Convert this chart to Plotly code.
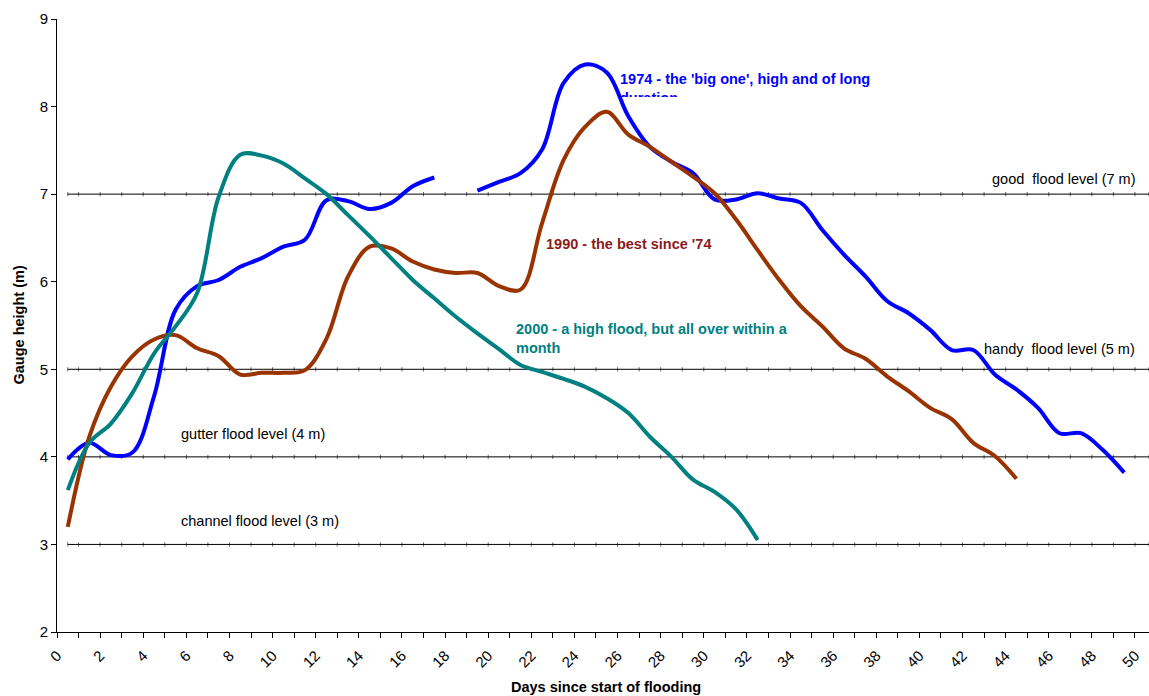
import plotly.graph_objects as go

# Days (category centres)
days = [0.5 + i for i in range(50)]

flood_1974 = [3.97, 4.16, 4.02, 4.05, 4.69, 5.68, 5.95, 6.02, 6.17, 6.27,
              6.40, 6.48, 6.93, 6.92, 6.83, 6.90, 7.09, 7.19, None, 7.04,
              7.14, 7.24, 7.51, 8.27, 8.48, 8.39, 7.89, 7.54, 7.37, 7.24,
              6.94, 6.94, 7.01, 6.95, 6.90, 6.59, 6.31, 6.06, 5.78, 5.64,
              5.45, 5.22, 5.22, 4.94, 4.77, 4.56, 4.27, 4.27, 4.08, 3.82]

flood_1990 = [3.20, 4.23, 4.80, 5.15, 5.34, 5.39, 5.24, 5.15, 4.94, 4.96,
              4.96, 4.99, 5.35, 6.06, 6.40, 6.38, 6.23, 6.14, 6.10, 6.10,
              5.95, 5.91, 6.67, 7.39, 7.77, 7.94, 7.68, 7.54, 7.37, 7.20,
              7.01, 6.71, 6.36, 6.02, 5.72, 5.49, 5.24, 5.12, 4.92, 4.75,
              4.56, 4.43, 4.16, 4.01, 3.75]

flood_2000 = [3.62, 4.16, 4.38, 4.73, 5.18, 5.49, 5.87, 6.97, 7.45, 7.44,
              7.35, 7.18, 7.00, 6.76, 6.52, 6.27, 6.02, 5.81, 5.60, 5.41,
              5.23, 5.05, 4.97, 4.89, 4.80, 4.67, 4.50, 4.23, 4.00, 3.74,
              3.60, 3.40, 3.05]

level_names = ["channel flood level (3 m)", "gutter flood level (4 m)",
               "handy  flood level (5 m)", "good  flood level (7 m)"]
level_values = [3, 4, 5, 7]
level_x = [0.5] + list(range(1, 51)) + [50.65]

x_ticks = list(range(0, 51, 2))
y_ticks = list(range(2, 10))

fig = go.Figure()

for name, val in zip(level_names, level_values):
    fig.add_trace(go.Scatter(
        x=level_x, y=[val] * len(level_x), mode="lines+markers",
        line=dict(color="black", width=1),
        marker=dict(symbol="line-ns", size=3,
                    line=dict(color="rgba(0,0,0,0.6)", width=1)),
        name=name, showlegend=False, hoverinfo="skip"))

series = [
    ("1974", flood_1974, "#0000FF"),
    ("1990", flood_1990, "#993300"),
    ("2000", flood_2000, "#008080"),
]
for name, vals, col in series:
    fig.add_trace(go.Scatter(
        x=days[:len(vals)], y=vals, mode="lines", name=name,
        line=dict(color=col, width=4, shape="spline", smoothing=1),
        connectgaps=False, showlegend=False))

ann_font = "Liberation Sans, Arial, sans-serif"
fs = 14.5
annotations = [
    dict(x=26.0, y=8.43, xanchor="left", yanchor="top", align="left",
         text="<b>1974 - the 'big one', high and of long<br>duration</b>",
         font=dict(color="#0000FF", size=fs, family=ann_font),
         height=26, valign="top", showarrow=False),
    dict(x=22.6, y=6.43, xanchor="left", yanchor="middle", align="left",
         text="<b>1990 - the best since '74</b>",
         font=dict(color="#8b1a1a", size=fs, family=ann_font), showarrow=False),
    dict(x=21.2, y=5.35, xanchor="left", yanchor="middle", align="left",
         text="<b>2000 - a high flood, but all over within a<br>month</b>",
         font=dict(color="#008080", size=fs, family=ann_font), showarrow=False),
    dict(x=50.1, y=7.17, xanchor="right", yanchor="middle",
         text=level_names[3], font=dict(color="black", size=fs, family=ann_font),
         showarrow=False),
    dict(x=50.1, y=5.23, xanchor="right", yanchor="middle",
         text=level_names[2], font=dict(color="black", size=fs, family=ann_font),
         showarrow=False),
    dict(x=5.66, y=4.26, xanchor="left", yanchor="middle",
         text=level_names[1], font=dict(color="black", size=fs, family=ann_font),
         showarrow=False),
    dict(x=5.66, y=3.27, xanchor="left", yanchor="middle",
         text=level_names[0], font=dict(color="black", size=fs, family=ann_font),
         showarrow=False),
    dict(xref="paper", yref="paper", x=0.503, y=0, yshift=-55,
         xanchor="center", yanchor="middle",
         text="<b>Days since start of flooding</b>",
         font=dict(color="black", size=fs, family=ann_font), showarrow=False),
    dict(xref="paper", yref="paper", x=0, y=0.5, xshift=-39,
         xanchor="center", yanchor="middle", textangle=-90,
         text="<b>Gauge height (m)</b>",
         font=dict(color="black", size=fs, family=ann_font), showarrow=False),
]

fig.update_layout(
    width=1149, height=696,
    margin=dict(l=57, r=0, t=19, b=64),
    paper_bgcolor="white", plot_bgcolor="white",
    font=dict(family=ann_font, color="black"),
    annotations=annotations,
    xaxis=dict(range=[0, 50.65], tickvals=x_ticks, tickangle=-45,
               automargin=False, ticklabelstandoff=3,
               showgrid=False, zeroline=False, showline=True,
               linecolor="black", linewidth=1, ticks="outside", ticklen=5,
               tickcolor="black", tickfont=dict(size=15),
               minor=dict(dtick=1, tick0=0, ticks="outside", ticklen=5,
                          tickcolor="black", showgrid=False)),
    yaxis=dict(range=[2, 9], tickvals=y_ticks, showgrid=False, zeroline=False,
               automargin=False,
               showline=True, linecolor="black", linewidth=1,
               ticks="outside", ticklen=5, tickcolor="black",
               tickfont=dict(size=15)),
)

fig.write_html("out.html",
               config={"displayModeBar": False},
               post_script="document.body.style.margin='0';"
                           "document.body.style.overflow='hidden';")
